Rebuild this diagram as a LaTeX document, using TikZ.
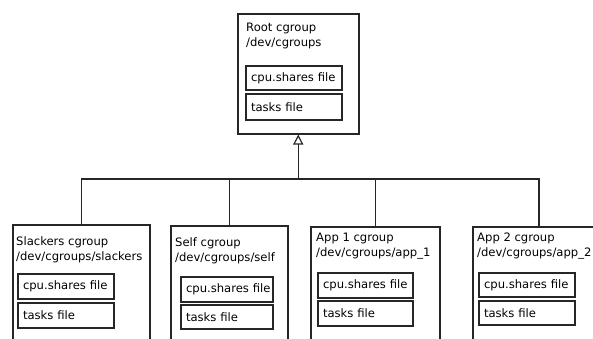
\documentclass[tikz,border=0pt]{standalone}
\usepackage{fontspec}
\setmainfont{DejaVu Sans}
\usetikzlibrary{arrows.meta}
\begin{document}
\begin{tikzpicture}[x=1pt,y=-1pt,
  every node/.style={font=\fontsize{11.6}{15}\selectfont, text=black},
  group/.style={draw=black!85, line width=1.5pt, fill=white, anchor=north west, minimum height=#1, inner sep=0pt},
  group/.default=200pt,
  filebox/.style={draw=black!85, line width=2pt, anchor=north west, inner xsep=5pt, inner ysep=0pt, align=left},
  label/.style={anchor=west, align=left, inner sep=0pt},
  link/.style={draw=black!85, line width=1.5pt}
]
\useasboundingbox (0,0) rectangle (593,338);
\clip (0,0) rectangle (593,338);
\fill[white] (0,0) rectangle (593,338);

% root
\node[group=120pt, minimum width=121pt] (root) at (237,13) {};
\node[label] (roott) at (246,36) {Root cgroup\\/dev/cgroups};
\node[filebox, minimum width=96pt, minimum height=24pt, text width=86pt] (rootcpu) at (245,65) {\mbox{cpu.shares file}};
\node[filebox, minimum width=96pt, minimum height=26pt, text width=86pt] (roottasks) at (245,93) {\mbox{tasks file}};

% slackers
\node[group, minimum width=137pt] (slackers) at (12,224) {};
\node[label] (slackt) at (16,249.5) {Slackers cgroup\\/dev/cgroups/slackers};
\node[filebox, minimum width=96pt, minimum height=25pt, text width=86pt] (slackcpu) at (17,273) {\mbox{cpu.shares file}};
\node[filebox, minimum width=96pt, minimum height=25pt, text width=86pt] (slacktasks) at (17,302) {\mbox{tasks file}};

% self
\node[group, minimum width=117pt] (self) at (170,225) {};
\node[label] (selft) at (175,250.5) {Self cgroup\\/dev/cgroups/self};
\node[filebox, minimum width=92pt, minimum height=25pt, text width=82pt] (selfcpu) at (180,276) {\mbox{cpu.shares file}};
\node[filebox, minimum width=92pt, minimum height=24pt, text width=82pt] (selftasks) at (180,304) {\mbox{tasks file}};

% app1
\node[group, minimum width=129pt] (app1) at (310,226) {};
\node[label] (app1t) at (316,246.5) {App 1 cgroup\\/dev/cgroups/app\_1};
\node[filebox, minimum width=95pt, minimum height=25pt, text width=85pt] (app1cpu) at (317,272) {\mbox{cpu.shares file}};
\node[filebox, minimum width=95pt, minimum height=25pt, text width=85pt] (app1tasks) at (317,300) {\mbox{tasks file}};

% app2
\node[group, minimum width=132pt] (app2) at (472,226) {};
\node[label] (app2t) at (477,246.5) {App 2 cgroup\\/dev/cgroups/app\_2};
\node[filebox, minimum width=96pt, minimum height=24pt, text width=86pt] (app2cpu) at (478,272) {\mbox{cpu.shares file}};
\node[filebox, minimum width=96pt, minimum height=24pt, text width=86pt] (app2tasks) at (478,300) {\mbox{tasks file}};

% connectors
\coordinate (bus) at (297,179);
\draw[link] (slackers.north) |- (app2.north |- bus) -- (app2.north);
\draw[link] (self.north) -- (self.north |- bus);
\draw[link] (app1.north) -- (app1.north |- bus);
\draw[link, -{Triangle[open, length=10pt, width=10pt, line width=1.2pt]}] (root.south |- bus) -- (root.south);
\end{tikzpicture}
\end{document}
